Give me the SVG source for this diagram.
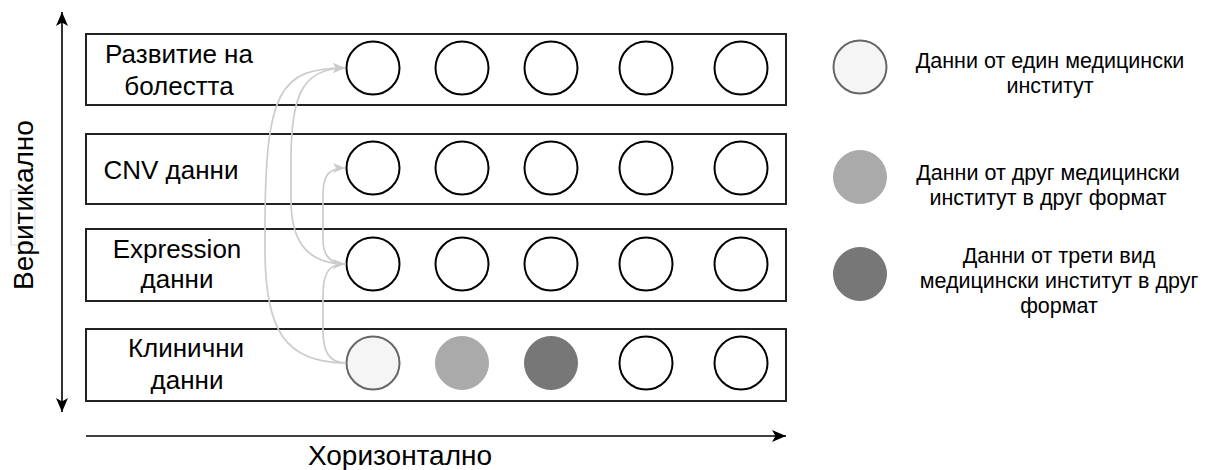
<svg xmlns="http://www.w3.org/2000/svg" width="1205" height="470" viewBox="0 0 1205 470">
  <defs>
    <marker id="axisArrow" markerUnits="userSpaceOnUse" markerWidth="14" markerHeight="12" viewBox="0 0 14 12" refX="14" refY="6" orient="auto-start-reverse">
      <path d="M0,0 L14,6 L0,12 L3.5,6 Z" fill="#000"/>
    </marker>
    <marker id="grayArrow" markerUnits="userSpaceOnUse" markerWidth="12" markerHeight="10" viewBox="0 0 12 10" refX="12" refY="5" orient="auto">
      <path d="M0,0 L12,5 L0,10 L3,5 Z" fill="#cccccc"/>
    </marker>
  </defs>
  <style>
    .row { fill: #ffffff; stroke: #222222; stroke-width: 2; }
    .c { fill: #ffffff; stroke: #000000; stroke-width: 2; }
    .c1 { fill: #f5f5f5; stroke: #666666; stroke-width: 2; }
    .c2 { fill: #aaaaaa; stroke: #aaaaaa; stroke-width: 1; }
    .c3 { fill: #777777; stroke: #777777; stroke-width: 1; }
    .lbl { font-family: "Liberation Sans", Arial, sans-serif; font-size: 26px; fill: #000; text-anchor: middle; }
    .ax { font-family: "Liberation Sans", Arial, sans-serif; font-size: 28px; fill: #000; text-anchor: middle; }
    .leg { font-family: "Liberation Sans", Arial, sans-serif; font-size: 21.5px; fill: #000; text-anchor: middle; }
    .axis { stroke: #000; stroke-width: 1.6; fill: none; }
    .edge { stroke: #cccccc; stroke-width: 1.7; fill: none; marker-end: url(#grayArrow); }
  </style>

  <!-- axes -->
  <g id="axes">
    <line class="axis" x1="62" y1="12" x2="62" y2="412" marker-start="url(#axisArrow)" marker-end="url(#axisArrow)"/>
    <line class="axis" x1="86" y1="436" x2="786" y2="436" marker-end="url(#axisArrow)"/>
    <rect x="11" y="190" width="24" height="55" fill="none" stroke="#d8d8d8" stroke-width="1"/>
    <text class="ax" transform="translate(33,205) rotate(-90)" x="0" y="0">Веритикално</text>
    <text class="ax" x="400" y="465">Хоризонтално</text>
  </g>

  <!-- rows -->
  <g id="row-razvitie">
    <rect class="row" x="86" y="34" width="700" height="71"/>
    <text class="lbl" x="179" y="63">Развитие на</text>
    <text class="lbl" x="179" y="95">болестта</text>
    <circle class="c" cx="373" cy="68" r="26.5"/>
    <circle class="c" cx="462" cy="68" r="26.5"/>
    <circle class="c" cx="551" cy="68" r="26.5"/>
    <circle class="c" cx="646" cy="68" r="26.5"/>
    <circle class="c" cx="741" cy="68" r="26.5"/>
  </g>
  <g id="row-cnv">
    <rect class="row" x="86" y="134" width="700" height="70"/>
    <text class="lbl" x="171" y="179">CNV данни</text>
    <circle class="c" cx="373" cy="168" r="26.5"/>
    <circle class="c" cx="462" cy="168" r="26.5"/>
    <circle class="c" cx="551" cy="168" r="26.5"/>
    <circle class="c" cx="646" cy="168" r="26.5"/>
    <circle class="c" cx="741" cy="168" r="26.5"/>
  </g>
  <g id="row-expression">
    <rect class="row" x="86" y="229" width="700" height="72"/>
    <text class="lbl" x="177" y="258">Expression</text>
    <text class="lbl" x="177" y="288">данни</text>
    <circle class="c" cx="373" cy="264" r="26.5"/>
    <circle class="c" cx="462" cy="264" r="26.5"/>
    <circle class="c" cx="551" cy="264" r="26.5"/>
    <circle class="c" cx="646" cy="264" r="26.5"/>
    <circle class="c" cx="741" cy="264" r="26.5"/>
  </g>
  <g id="row-clinical">
    <rect class="row" x="86" y="329" width="700" height="72"/>
    <text class="lbl" x="186" y="357">Клинични</text>
    <text class="lbl" x="187" y="389">данни</text>
    <circle class="c1" cx="373" cy="363" r="26.5"/>
    <circle class="c2" cx="462" cy="363" r="26.5"/>
    <circle class="c3" cx="551" cy="363" r="26.5"/>
    <circle class="c" cx="646" cy="363" r="26.5"/>
    <circle class="c" cx="741" cy="363" r="26.5"/>
  </g>

  <!-- connectors -->
  <g id="connectors">
    <path class="edge" d="M346,363 C285,363 265,330 265,250 L265,230 C265,90 280,68 345,68"/>
    <path class="edge" d="M346,264 C310,264 291,245 291,200 L291,160 C291,100 300,68 345,68"/>
    <path class="edge" d="M346,363 C328,363 323,350 323,330 L323,295 C323,274 328,264 345,264"/>
    <path class="edge" d="M346,264 C330,264 323,255 323,240 L323,195 C323,176 328,168 345,168"/>
  </g>

  <!-- legend -->
  <g id="legend-1">
    <circle class="c1" cx="860" cy="67" r="26.5"/>
    <text class="leg" x="1050" y="68">Данни от един медицински</text>
    <text class="leg" x="1050" y="93">институт</text>
  </g>
  <g id="legend-2">
    <circle class="c2" cx="860" cy="177" r="26.5"/>
    <text class="leg" x="1048" y="180">Данни от друг медицински</text>
    <text class="leg" x="1048" y="205">институт в друг формат</text>
  </g>
  <g id="legend-3">
    <circle class="c3" cx="860" cy="274" r="26.5"/>
    <text class="leg" x="1059" y="263">Данни от трети вид</text>
    <text class="leg" x="1059" y="288">медицински институт в друг</text>
    <text class="leg" x="1059" y="313">формат</text>
  </g>
</svg>
